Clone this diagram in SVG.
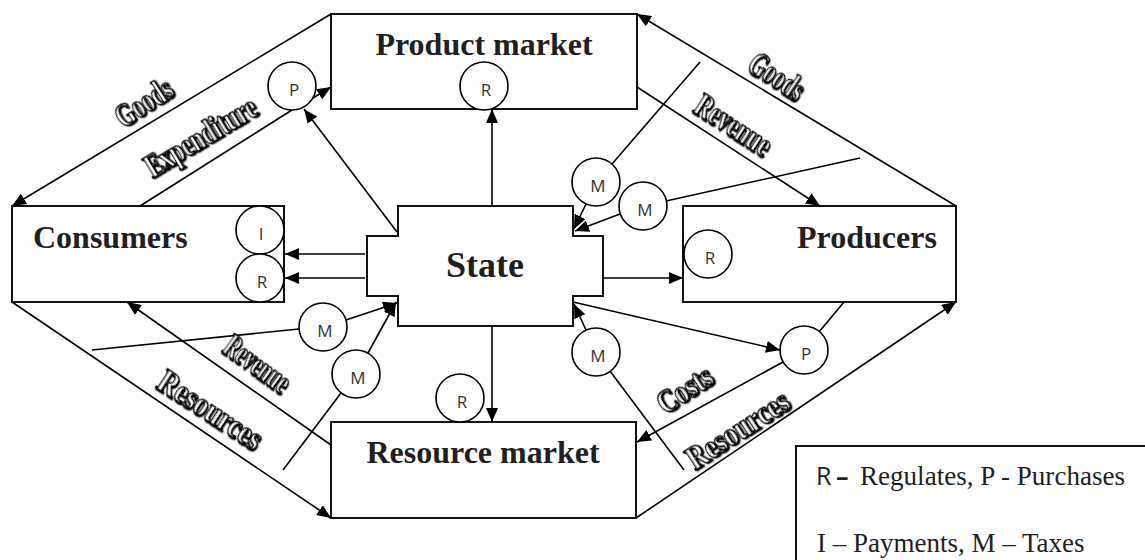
<svg xmlns="http://www.w3.org/2000/svg" width="1145" height="560" viewBox="0 0 1145 560">
<style>
.box{fill:#fff;stroke:#111;stroke-width:2}
.ln{fill:none;stroke:#000;stroke-width:1.6}
.arr{marker-end:url(#ah)}
.ttl{font-family:"Liberation Serif",serif;font-weight:bold;font-size:32px;fill:#231f20}
.cir{fill:#fff;stroke:#000;stroke-width:1.6}
.cl{font-family:"Open Sans","Liberation Sans",sans-serif;font-size:17px;fill:#333;text-anchor:middle}
.wa{font-family:"Liberation Serif",serif;font-weight:bold;font-size:34px;fill:#fff;stroke:#000;stroke-width:1.6;text-anchor:middle;dominant-baseline:central;filter:url(#sh)}
.lg{font-family:"Liberation Serif",serif;font-size:27px;fill:#231f20}
.lgs{font-family:"Open Sans","Liberation Sans",sans-serif;font-size:25px;fill:#231f20}
</style>
<defs>
<marker id="ah" viewBox="0 0 14 12" refX="14" refY="6" markerWidth="14" markerHeight="12" markerUnits="userSpaceOnUse" orient="auto">
<path d="M0,0 L14,6 L0,12 z" fill="#000"/>
</marker>
<filter id="sh" x="-20%" y="-50%" width="140%" height="200%">
<feDropShadow dx="1.4" dy="1.4" stdDeviation="0" flood-color="#000"/>
</filter>
</defs>
<rect width="1145" height="560" fill="#fff"/>

<g id="connectors">
<line class="ln arr" x1="331" y1="14" x2="12" y2="206"/>
<line class="ln" x1="140" y1="206" x2="292" y2="110"/>
<line class="ln arr" x1="313" y1="98" x2="331" y2="87"/>
<line class="ln arr" x1="397" y1="232" x2="304" y2="109"/>
<line class="ln arr" x1="956" y1="206" x2="637" y2="14"/>
<line class="ln arr" x1="637" y1="87" x2="820" y2="206"/>
<line class="ln arr" x1="492" y1="206" x2="492" y2="109"/>
<line class="ln arr" x1="492" y1="326" x2="492" y2="422"/>
<line class="ln arr" x1="365" y1="254" x2="285" y2="254"/>
<line class="ln arr" x1="365" y1="278" x2="285" y2="278"/>
<line class="ln arr" x1="603" y1="278" x2="683" y2="278"/>
<line class="ln" x1="700" y1="62" x2="612" y2="164"/>
<line class="ln arr" x1="586" y1="204" x2="574" y2="229"/>
<line class="ln" x1="860" y1="158" x2="666" y2="201"/>
<line class="ln arr" x1="620" y1="214" x2="575" y2="231"/>
<line class="ln" x1="92" y1="350" x2="299" y2="329"/>
<line class="ln arr" x1="346" y1="320" x2="397" y2="303"/>
<line class="ln" x1="283" y1="470" x2="341" y2="393"/>
<line class="ln arr" x1="368" y1="353" x2="396" y2="302"/>
<line class="ln arr" x1="331" y1="445" x2="127" y2="302"/>
<line class="ln arr" x1="12" y1="302" x2="331" y2="518"/>
<line class="ln arr" x1="636" y1="518" x2="956" y2="302"/>
<line class="ln arr" x1="783" y1="362" x2="637" y2="442"/>
<line class="ln" x1="819" y1="332" x2="844" y2="302"/>
<line class="ln arr" x1="573" y1="302" x2="780" y2="350"/>
<line class="ln arr" x1="586" y1="330" x2="574" y2="304"/>
<line class="ln" x1="684" y1="470" x2="610" y2="371"/>
</g>

<g id="labels">
<text class="wa" transform="translate(143,102) rotate(-33)" textLength="62" lengthAdjust="spacingAndGlyphs">Goods</text>
<text class="wa" transform="translate(200,136) rotate(-31)" textLength="125" lengthAdjust="spacingAndGlyphs">Expenditure</text>
<text class="wa" transform="translate(777,76) rotate(34)" textLength="60" lengthAdjust="spacingAndGlyphs">Goods</text>
<text class="wa" transform="translate(734,124) rotate(33)" textLength="85" lengthAdjust="spacingAndGlyphs">Revenue</text>
<text class="wa" transform="translate(258,363) rotate(36)" textLength="74" lengthAdjust="spacingAndGlyphs">Revenue</text>
<text class="wa" transform="translate(211,409) rotate(33)" textLength="118" lengthAdjust="spacingAndGlyphs">Resources</text>
<text class="wa" transform="translate(684,389) rotate(-33)" textLength="60" lengthAdjust="spacingAndGlyphs">Costs</text>
<text class="wa" transform="translate(737,429) rotate(-33)" textLength="116" lengthAdjust="spacingAndGlyphs">Resources</text>
</g>

<g id="product-market">
<rect class="box" x="331" y="14" width="306" height="95"/>
<text class="ttl" x="484" y="55" text-anchor="middle">Product market</text>
</g>
<g id="consumers">
<rect class="box" x="12" y="206" width="272" height="96"/>
<text class="ttl" x="33" y="248">Consumers</text>
</g>
<g id="producers">
<rect class="box" x="683" y="206" width="273" height="96"/>
<text class="ttl" x="797" y="248">Producers</text>
</g>
<g id="resource-market">
<rect class="box" x="331" y="422" width="305" height="96"/>
<text class="ttl" x="483" y="463" text-anchor="middle">Resource market</text>
</g>
<g id="state">
<polygon class="box" points="398,206 573,206 573,236 603,236 603,296 573,296 573,326 398,326 398,296 367,296 367,236 398,236"/>
<text class="ttl" x="485" y="277" text-anchor="middle" style="font-size:36px">State</text>
</g>

<g id="c-p1"><circle class="cir" cx="292" cy="86" r="24"/><text class="cl" x="294" y="96">P</text></g>
<g id="c-r-pm"><circle class="cir" cx="484" cy="86" r="24"/><text class="cl" x="486" y="96">R</text></g>
<g id="c-i"><circle class="cir" cx="260" cy="230" r="24"/><text class="cl" x="261" y="240">I</text></g>
<g id="c-r-c"><circle class="cir" cx="260" cy="278" r="24"/><text class="cl" x="262" y="288">R</text></g>
<g id="c-r-prod"><circle class="cir" cx="708" cy="254" r="24"/><text class="cl" x="710" y="264">R</text></g>
<g id="c-r-rm"><circle class="cir" cx="460" cy="398" r="24"/><text class="cl" x="462" y="408">R</text></g>
<g id="c-m1"><circle class="cir" cx="596" cy="182" r="24"/><text class="cl" x="598" y="192">M</text></g>
<g id="c-m2"><circle class="cir" cx="643" cy="206" r="24"/><text class="cl" x="645" y="216">M</text></g>
<g id="c-m3"><circle class="cir" cx="323" cy="327" r="24"/><text class="cl" x="325" y="337">M</text></g>
<g id="c-m4"><circle class="cir" cx="356" cy="374" r="24"/><text class="cl" x="358" y="384">M</text></g>
<g id="c-m5"><circle class="cir" cx="596" cy="352" r="24"/><text class="cl" x="598" y="362">M</text></g>
<g id="c-p2"><circle class="cir" cx="804" cy="350" r="24"/><text class="cl" x="806" y="360">P</text></g>

<g id="legend">
<rect x="796" y="446" width="400" height="160" fill="#fff" stroke="#111" stroke-width="2"/>
<text y="485"><tspan class="lgs" x="816">R</tspan><tspan class="lgs" x="836" style="font-weight:bold">–</tspan><tspan class="lg" x="860" textLength="265" lengthAdjust="spacingAndGlyphs">Regulates, P - Purchases</tspan></text>
<text class="lg" x="817" y="552">I – Payments, M – Taxes</text>
</g>
</svg>
